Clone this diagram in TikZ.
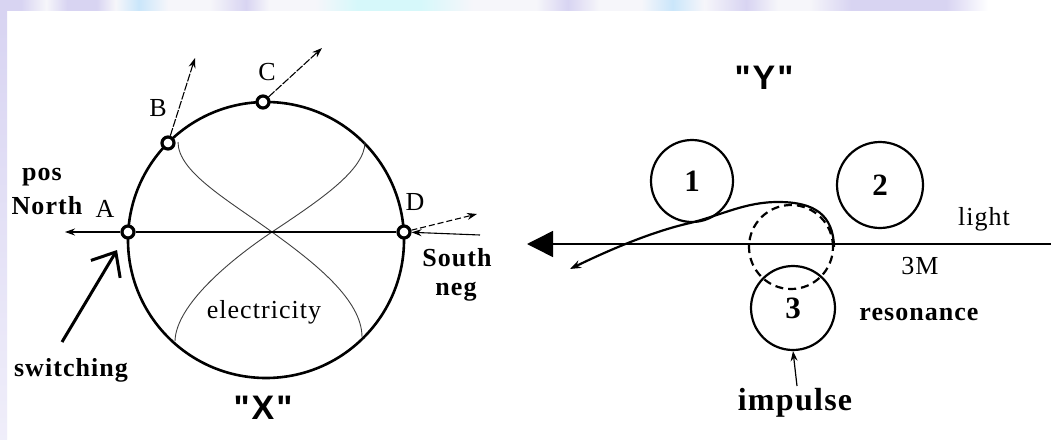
\documentclass[tikz,border=0pt]{standalone}
\usepackage{fontspec}
\setmainfont{Liberation Serif}[LetterSpace=4]
\newfontfamily\sansb{Liberation Sans}[LetterSpace=6]
\usetikzlibrary{arrows.meta}
\definecolor{lav}{RGB}{216,212,242}
\definecolor{lblue}{RGB}{202,230,250}
\definecolor{lcyan}{RGB}{214,248,250}
\definecolor{wband}{RGB}{246,246,250}
\pgfdeclarehorizontalshading{band}{100bp}{
 color(0bp)=(lav); color(25bp)=(lav); color(26bp)=(lav); color(27.2bp)=(wband);
 color(28.2bp)=(lav); color(29.6bp)=(lav); color(30.5bp)=(wband); color(31.6bp)=(lblue);
 color(33bp)=(wband); color(35bp)=(wband); color(36.7bp)=(lav); color(37.8bp)=(wband);
 color(40bp)=(wband); color(42bp)=(lcyan); color(45bp)=(lcyan); color(47.5bp)=(wband);
 color(50.5bp)=(wband); color(52bp)=(lav); color(53.5bp)=(wband); color(55.5bp)=(wband);
 color(57bp)=(lblue); color(58.5bp)=(wband); color(60.5bp)=(lav); color(62bp)=(wband);
 color(63.5bp)=(wband); color(65.5bp)=(lav); color(70bp)=(lav); color(72bp)=(white);
 color(75bp)=(white); color(100bp)=(white)}
\tikzset{
 lbl/.style={inner sep=0pt, font=\fontsize{26}{30}\selectfont},
 blbl/.style={inner sep=0pt, font=\fontsize{26}{30}\selectfont\bfseries},
 qlbl/.style={inner sep=0pt, font=\sansb\fontsize{34}{38}\selectfont\bfseries},
 ptdot/.style={circle, draw, line width=3.2pt, minimum size=12pt, inner sep=0pt, fill=white},
 bigring/.style={line width=2.6pt},
 inner8/.style={line width=0.9pt, draw=black!75},
 thinarrow/.style={line width=1.1pt, -{Stealth[length=10pt,width=7pt]}},
 dasharrow/.style={thinarrow, dash pattern=on 6pt off 3pt},
 ball/.style={circle, draw, line width=2.2pt, inner sep=0pt, font=\fontsize{31}{34}\selectfont\bfseries},
 dball/.style={circle, draw, line width=2.2pt, inner sep=0pt, dash pattern=on 8pt off 5pt}
}
\begin{document}
\begin{tikzpicture}[x=1pt,y=-1pt]
\useasboundingbox (0,0) rectangle (1051,439);
\fill[white] (0,0) rectangle (1051,439);
\shade[shading=band] (0,0) rectangle (1051,10);
\shade[top color=lav, bottom color=lav!40] (0,10) rectangle (7,439);

% ---------- diagram X ----------
\coordinate (O) at (266,240);
\draw[bigring] (O) circle[radius=138];
\draw[inner8] (178,142) .. controls (178,172) and (228,200) .. (272,232)
              .. controls (315,263) and (362,300) .. (362,337);
\draw[inner8] (365,142) .. controls (365,170) and (320,200) .. (272,232)
              .. controls (230,260) and (176,305) .. (175,341);

\node[ptdot] (A) at (128,232) {};
\node[ptdot] (B) at (168,143) {};
\node[ptdot] (C) at (263,102) {};
\node[ptdot] (D) at (404,232) {};

\coordinate (Aend) at (65,232);
\coordinate (Dend) at (480,235);
\coordinate (Dout) at (477,214);
\coordinate (Bout) at (195,58);
\coordinate (Cout) at (322,48);
\coordinate (swtail) at (62,342);
\coordinate (swtip) at (117,250);

\draw[line width=1.3pt] (A) -- (D);
\draw[thinarrow] (A) -- (Aend);
\draw[thinarrow] (Dend) -- (D);
\draw[dasharrow] (D) -- (Dout);
\draw[thinarrow, dash pattern=on 8pt off 1.5pt] (B) -- (Bout);
\draw[thinarrow, dash pattern=on 8pt off 1.5pt] (C) -- (Cout);
\draw[line width=3pt, -{Straight Barb[length=20pt,width=34pt]}] (swtail) -- (swtip);

\node[lbl] (lA) at (105,209) {A};
\node[lbl] (lB) at (158,108) {B};
\node[lbl] (lC) at (267,72) {C};
\node[lbl] (lD) at (415,202) {D};
\node[blbl] (pos) at (42,177) {pos};
\node[blbl] (north) at (47,206) {North};
\node[blbl] (sw) at (71,370) {switching};
\node[blbl] (south) at (457,258) {South};
\node[blbl] (neg) at (456,292) {neg};
\node[lbl] (elec) at (264,312) {electricity};
\node[qlbl] (X) at (263,408) {"X"};

% ---------- diagram Y ----------
\coordinate (Lstart) at (1051,244);
\coordinate (Ltip) at (527,244);
\draw[line width=1.5pt, -{Triangle[length=26pt,width=26pt]}] (Lstart) -- (Ltip);

\node[ball, minimum size=82pt] (c1) at (692,181) {1};
\node[ball, minimum size=86pt] (c2) at (880,185) {2};
\node[ball, minimum size=84pt] (c3) at (793,308) {3};
\node[dball, minimum size=84pt] (c4) at (791,247) {};

\coordinate (loopTip) at (570,269);
\draw[line width=2.2pt, -{Stealth[length=11pt,width=8pt]}]
  (c4.east) .. controls (833,215) and (815,202) .. (778,202)
  .. controls (745,202) and (722,215) .. (690,223)
  .. controls (650,232) and (605,252) .. (loopTip);

\coordinate (impA) at (797,386);
\draw[line width=1.2pt, -{Stealth[length=10pt,width=7pt]}] (impA) -- (c3.south);

\node[qlbl] (Y) at (764,78) {"Y"};
\node[lbl] (light) at (984,219) {light};
\node[lbl] (threeM) at (920,266) {3M};
\node[blbl] (reson) at (919,314) {resonance};
\node[blbl, font=\fontsize{32}{36}\selectfont\bfseries] (impulse) at (795,403) {impulse};
\end{tikzpicture}
\end{document}
